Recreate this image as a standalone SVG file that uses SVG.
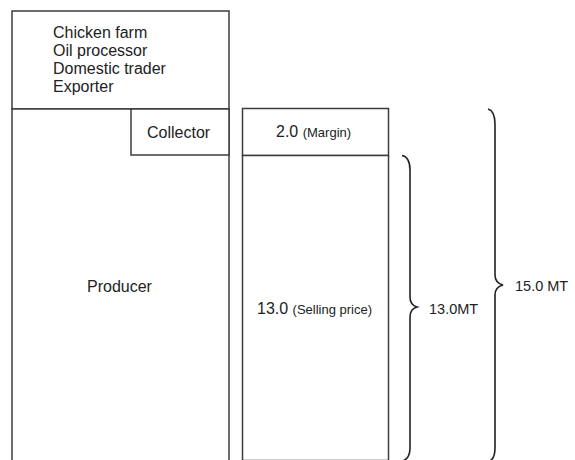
<svg xmlns="http://www.w3.org/2000/svg" width="575" height="460" viewBox="0 0 575 460">
<style>
.box{fill:#fff;stroke:#3c3c3c;stroke-width:1.5}
.t{font-family:"Liberation Sans",Arial,sans-serif;fill:#222;font-size:16px}
.s{font-size:13px}
.m{font-size:14.5px}
.brace{fill:none;stroke:#222;stroke-width:1.6}
</style>
<rect width="575" height="460" fill="#fff"/>
<g id="buyers">
<rect class="box" x="12" y="11" width="217" height="98"/>
<text class="t" x="53" y="38">Chicken farm</text>
<text class="t" x="53" y="56">Oil processor</text>
<text class="t" x="53" y="74">Domestic trader</text>
<text class="t" x="53" y="92">Exporter</text>
</g>
<g id="producer">
<rect class="box" x="12" y="109" width="217" height="352"/>
<text class="t" x="87" y="292">Producer</text>
</g>
<g id="collector">
<rect class="box" x="131" y="109" width="98" height="46"/>
<text class="t" x="147" y="138">Collector</text>
</g>
<g id="margin">
<rect class="box" x="242.5" y="108.5" width="146" height="47"/>
<text class="t" x="276" y="137">2.0 <tspan class="s">(Margin)</tspan></text>
</g>
<g id="selling">
<rect class="box" x="242.5" y="155.5" width="146" height="305"/>
<text class="t" x="257" y="314">13.0 <tspan class="s">(Selling price)</tspan></text>
</g>
<g id="connectors">
<path class="brace" d="M402,155.5 Q410,157 410,170 L410,297 Q410,305 417,307 Q410,309 410,317 L410,448 Q410,458 403,461"/>
<path class="brace" d="M488,109 Q495,111 495,124 L495,275 Q495,283 503,285 Q495,287 495,295 L495,448 Q495,458 490,461"/>
</g>
<g id="labels">
<text class="t m" x="429" y="314">13.0MT</text>
<text class="t m" x="515" y="291">15.0 MT</text>
</g>
</svg>
